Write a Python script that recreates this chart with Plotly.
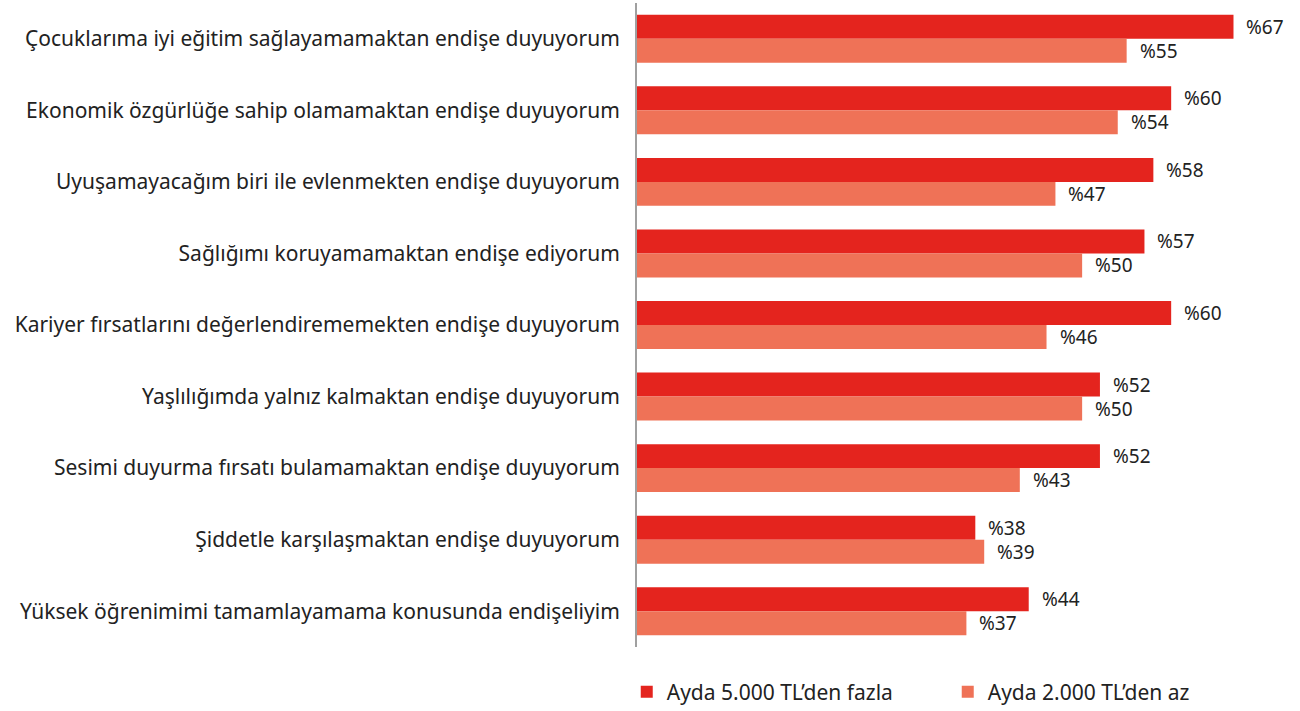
import plotly.graph_objects as go

categories = [
    "Çocuklarıma iyi eğitim sağlayamamaktan endişe duyuyorum",
    "Ekonomik özgürlüğe sahip olamamaktan endişe duyuyorum",
    "Uyuşamayacağım biri ile evlenmekten endişe duyuyorum",
    "Sağlığımı koruyamamaktan endişe ediyorum",
    "Kariyer fırsatlarını değerlendirememekten endişe duyuyorum",
    "Yaşlılığımda yalnız kalmaktan endişe duyuyorum",
    "Sesimi duyurma fırsatı bulamamaktan endişe duyuyorum",
    "Şiddetle karşılaşmaktan endişe duyuyorum",
    "Yüksek öğrenimimi tamamlayamama konusunda endişeliyim",
]
high_income = [67, 60, 58, 57, 60, 52, 52, 38, 44]
low_income = [55, 54, 47, 50, 46, 50, 43, 39, 37]
series_names = ["Ayda 5.000 TL’den fazla", "Ayda 2.000 TL’den az"]
colors = ["#E4241E", "#EF7257"]

FONT = "Noto Sans"

fig = go.Figure()
for name, vals, col in zip(series_names, [high_income, low_income], colors):
    fig.add_trace(go.Bar(
        y=categories, x=vals, name=name, orientation="h",
        marker=dict(color=col, line=dict(width=0)),
    ))

annotations = []
for vals, shift in [(high_income, 12), (low_income, -12)]:
    for c, v in zip(categories, vals):
        annotations.append(dict(
            x=v, y=c, text=f"%{v}", showarrow=False, xanchor="left",
            xshift=11, yshift=shift, font=dict(family=FONT, size=19, color="#222"),
        ))

fig.update_layout(
    width=1300, height=711,
    margin=dict(l=637, r=22, t=3, b=64, autoexpand=False),
    barmode="group", bargap=0.33, bargroupgap=0,
    plot_bgcolor="white", paper_bgcolor="white",
    font=dict(family=FONT, size=21, color="#222"),
    annotations=annotations,
    showlegend=True,
    legend=dict(orientation="h", x=-0.016, xanchor="left", y=-0.07, yanchor="middle",
                entrywidth=276, entrywidthmode="pixels", font=dict(size=21),
                traceorder="normal"),
)
fig.update_xaxes(range=[0, 72], showgrid=False, showticklabels=False, zeroline=False,
                 showline=False, ticks="")
fig.update_yaxes(autorange="reversed", showline=True, linecolor="#A0A0A0", linewidth=2,
                 ticks="", ticklabelstandoff=11, showgrid=False,
                 tickfont=dict(family=FONT, size=21, color="#222"))

fig.write_html("out.html", config={"displayModeBar": False},
               post_script="document.body.style.margin='0';")
